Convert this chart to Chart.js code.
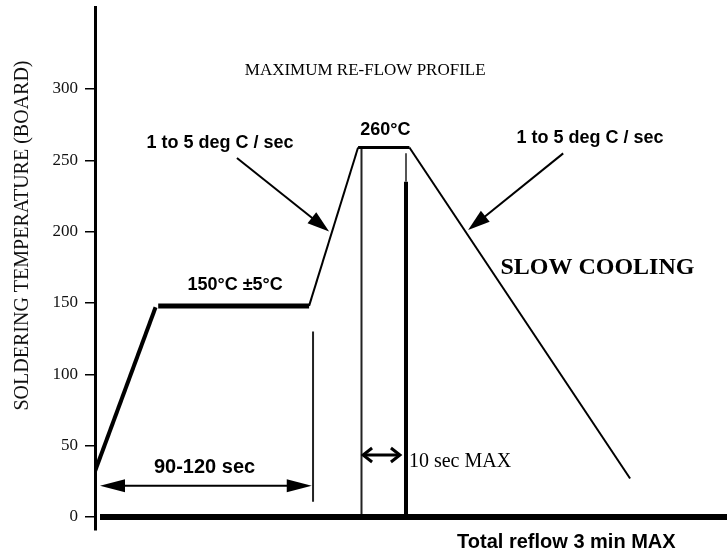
<!DOCTYPE html>
<html><head><meta charset="utf-8">
<script src="https://cdn.jsdelivr.net/npm/chart.js@4.4.1/dist/chart.umd.min.js"></script>
<style>html,body{margin:0;padding:0;background:#fff;}canvas{display:block;}</style>
</head><body>
<canvas id="c" width="727" height="556"></canvas>
<script>
// ---------------- data (time in arbitrary seconds-like units, temperature in °C) ----------------
const yTicks = [0, 50, 100, 150, 200, 250, 300];

const preheatTime = [0, 23];      const preheatTemp = [32, 147];
const soakTime    = [24, 81.3];   const soakTemp    = [148, 148];
const rampTime    = [81.3, 99.9]; const rampTemp    = [148, 259];
const peakTime    = [99.9, 119.4];const peakTemp    = [259, 259];
const coolTime    = [119.4, 203.2];const coolTemp   = [259, 27];
const baseTime    = [1.9, 240];   const baseTemp    = [0, 0];

const soakEndTime  = [82.8, 82.8];   const soakEndTemp  = [130, 10.7];
const peakStartTime= [101.2, 101.2]; const peakStartTemp= [259, -2];
const peakEndTime  = [118.1, 118.1]; const peakEndTempThin = [255, 235]; const peakEndTemp = [235, -2];

const soakArrowTime = [1.9, 82.3];    const soakArrowTemp = [21.9, 21.9];
const peakArrowTime = [101.8, 115.8]; const peakArrowTemp = [43.5, 43.5];
const rampArrowTime = [53.9, 88.9];   const rampArrowTemp = [251.6, 200.2];
const coolArrowTime = [177.8, 141.7]; const coolArrowTemp = [254.9, 201.2];

const labelTexts = ['MAXIMUM RE-FLOW PROFILE', '1 to 5 deg C / sec', '260°C', '1 to 5 deg C / sec',
                    '150°C ±5°C', 'SLOW COOLING', '90-120 sec', '10 sec MAX', 'Total reflow 3 min MAX'];
const labelTime = [102.6, 47.5, 110.3, 188.0, 53.2, 190.8, 41.6, 119.2, 179.0];
const labelTemp = [312.9, 262.1, 271.3, 265.6, 162.6, 174.5, 35, 38.8, -18.2];

// ---------------- styles ----------------
const SERIF = '"Liberation Serif", "Times New Roman", serif';
const SANS = '"Liberation Sans", Arial, sans-serif';
const labelFonts = ['17px ' + SERIF, 'bold 18px ' + SANS, 'bold 18px ' + SANS, 'bold 18px ' + SANS,
                    'bold 18px ' + SANS, 'bold 24px ' + SERIF, 'bold 20px ' + SANS, '20px ' + SERIF, 'bold 20px ' + SANS];
const labelAlign = ['center','center','center','center','center','center','center','left','center'];
const TITLE_SHIFT = -33;

function seg(t, v, w, color) {
  return {data: t.map((x, i) => ({x: x, y: v[i]})), showLine: true, borderColor: color || '#000',
          backgroundColor: color || '#000', borderWidth: w, pointRadius: 0, tension: 0, borderCapStyle: 'butt'};
}

const datasets = [
  seg(preheatTime, preheatTemp, 4),
  seg(soakTime, soakTemp, 5),
  seg(rampTime, rampTemp, 2),
  seg(peakTime, peakTemp, 3),
  seg(coolTime, coolTemp, 2),
  seg(baseTime, baseTemp, 6),
  seg(soakEndTime, soakEndTemp, 2, '#222'),
  seg(peakStartTime, peakStartTemp, 2, '#222'),
  seg(peakEndTime, peakEndTempThin, 2, '#555'),
  seg(peakEndTime, peakEndTemp, 4),
];

function head(ctx, tx, ty, ang, len, hw, filled, lw) {
  const bx = tx - Math.cos(ang) * len, by = ty - Math.sin(ang) * len;
  const px = -Math.sin(ang) * hw, py = Math.cos(ang) * hw;
  ctx.beginPath();
  ctx.moveTo(bx + px, by + py); ctx.lineTo(tx, ty); ctx.lineTo(bx - px, by - py);
  if (filled) { ctx.closePath(); ctx.fill(); } else { ctx.lineWidth = lw; ctx.stroke(); }
}
function arrow(chart, t, v, opts) {
  const {x, y} = chart.scales; const ctx = chart.ctx;
  const x0 = x.getPixelForValue(t[0]), y0 = y.getPixelForValue(v[0]);
  const x1 = x.getPixelForValue(t[1]), y1 = y.getPixelForValue(v[1]);
  const ang = Math.atan2(y1 - y0, x1 - x0);
  ctx.save(); ctx.strokeStyle = '#000'; ctx.fillStyle = '#000'; ctx.lineCap = 'butt';
  ctx.lineWidth = opts.lw;
  const sx = opts.both && opts.filled ? x0 + Math.cos(ang) * opts.len * 0.8 : x0;
  const sy = opts.both && opts.filled ? y0 + Math.sin(ang) * opts.len * 0.8 : y0;
  const ex = opts.filled ? x1 - Math.cos(ang) * opts.len * 0.8 : x1;
  const ey = opts.filled ? y1 - Math.sin(ang) * opts.len * 0.8 : y1;
  ctx.beginPath(); ctx.moveTo(sx, sy); ctx.lineTo(ex, ey); ctx.stroke();
  head(ctx, x1, y1, ang, opts.len, opts.hw, opts.filled, opts.lw);
  if (opts.both) head(ctx, x0, y0, ang + Math.PI, opts.len, opts.hw, opts.filled, opts.lw);
  ctx.restore();
}

const annotate = {
  id: 'annotate',
  afterLayout(chart) {
    const s = chart.scales.y;
    if (s && !s._shiftPatched) {
      const orig = s.drawTitle.bind(s);
      s.drawTitle = function () {
        const ctx = this.ctx; ctx.save(); ctx.translate(0, TITLE_SHIFT); orig(); ctx.restore();
      };
      s._shiftPatched = true;
    }
  },
  afterDatasetsDraw(chart) {
    arrow(chart, soakArrowTime, soakArrowTemp, {lw: 2, len: 25, hw: 6.5, filled: true, both: true});
    arrow(chart, peakArrowTime, peakArrowTemp, {lw: 3, len: 9, hw: 7, filled: false, both: true});
    arrow(chart, rampArrowTime, rampArrowTemp, {lw: 2, len: 22, hw: 7, filled: true, both: false});
    arrow(chart, coolArrowTime, coolArrowTemp, {lw: 2, len: 22, hw: 7, filled: true, both: false});
    const {x, y} = chart.scales; const ctx = chart.ctx;
    ctx.save(); ctx.fillStyle = '#000'; ctx.textBaseline = 'middle';
    labelTexts.forEach((txt, i) => {
      ctx.font = labelFonts[i]; ctx.textAlign = labelAlign[i];
      ctx.fillText(txt, x.getPixelForValue(labelTime[i]), y.getPixelForValue(labelTemp[i]));
    });
    ctx.restore();
  }
};

new Chart(document.getElementById('c'), {
  type: 'scatter',
  data: {datasets: datasets},
  plugins: [annotate],
  options: {
    responsive: false, animation: false, devicePixelRatio: 1,
    layout: {padding: {top: 7, bottom: 26, left: 0, right: 0}},
    plugins: {legend: {display: false}, tooltip: {enabled: false}},
    scales: {
      x: {type: 'linear', min: 0, max: 240, display: false},
      y: {
        type: 'linear', min: -9.1, max: 357.5,
        afterBuildTicks: s => { s.ticks = yTicks.map(v => ({value: v})); },
        afterFit: s => { s.width = 95; s.paddingTop = 0; s.paddingBottom = 0; },
        grid: {drawOnChartArea: false, drawTicks: true, tickLength: 10, color: '#000', lineWidth: 1.5},
        border: {display: true, color: '#000', width: 3},
        ticks: {font: {family: SERIF, size: 17}, color: '#111', padding: 7},
        title: {display: true, text: 'SOLDERING TEMPERATURE (BOARD)', font: {family: SERIF, size: 20},
                color: '#111', padding: {top: 11, bottom: 0}}
      }
    }
  }
});
</script>
</body></html>
